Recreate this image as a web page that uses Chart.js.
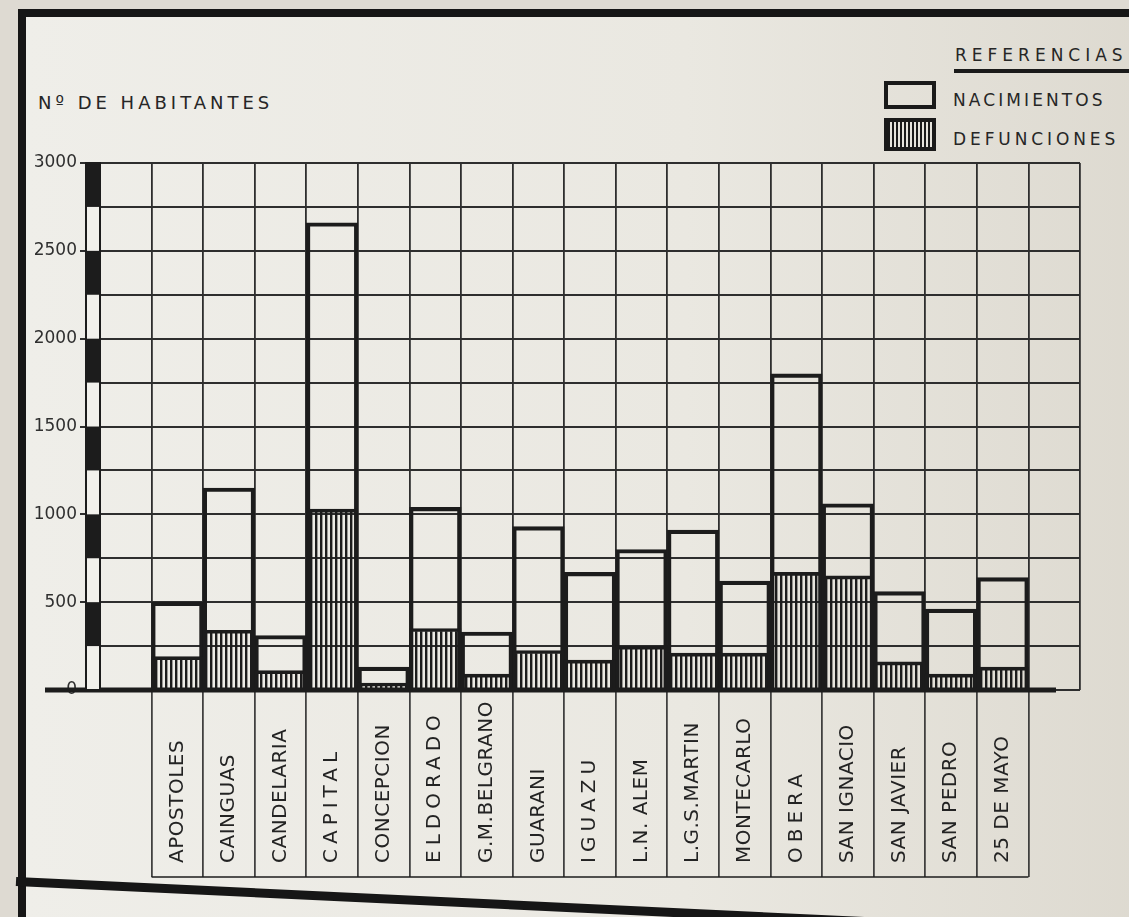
<!DOCTYPE html>
<html>
<head>
<meta charset="utf-8">
<script src="https://cdn.jsdelivr.net/npm/chart.js@4.4.1/dist/chart.umd.min.js"></script>
<style>
html, body { margin: 0; padding: 0; }
body {
    width: 1129px; height: 917px; position: relative; overflow: hidden;
    background: #dedad2;
    font-family: "DejaVu Sans", sans-serif; color: #262626;
}
#page {
    position: absolute; left: 18px; top: 9px; width: 1200px; height: 1000px;
    border-top: 8px solid #161616; border-left: 8px solid #161616;
    background: linear-gradient(90deg, #efeee9 0%, #eae8e1 55%, #dbd7cd 100%);
}
#bottomEdge {
    position: absolute; left: 16px; top: 877px; width: 1200px; height: 9px;
    background: #161616; transform-origin: 0 50%; transform: rotate(2.7deg);
}
#plot { position: absolute; left: 0; top: 0; }
.txt { position: absolute; font-size: 17px; white-space: nowrap; line-height: 20px; }
.box { position: absolute; box-sizing: border-box; border: 4px solid #1a1a1a; }
</style>
</head>
<body>
<div id="page"></div>
<div id="bottomEdge"></div>

<div class="txt" style="left:38px; top:93px; font-size:18px; letter-spacing:4px;">Nº DE HABITANTES</div>

<div class="txt" style="left:955px; top:45px; letter-spacing:5px;">REFERENCIAS</div>
<div style="position:absolute; left:954px; top:69px; width:175px; height:4px; background:#1a1a1a;"></div>
<div class="box" style="left:884px; top:81px; width:52px; height:28px;"></div>
<div class="txt" style="left:953px; top:90px; letter-spacing:3.1px;">NACIMIENTOS</div>
<div class="box" style="left:884px; top:118px; width:52px; height:33px;
     background: repeating-linear-gradient(90deg, #1a1a1a 0 2px, #e6e4dd 2px 4px);"></div>
<div class="txt" style="left:953px; top:129px; letter-spacing:3.9px;">DEFUNCIONES</div>

<canvas id="plot" width="1129" height="917"></canvas>

<script>
// Datos (departamentos de Misiones)
const departamentos = ['APOSTOLES', 'CAINGUAS', 'CANDELARIA', 'CAPITAL', 'CONCEPCION', 'ELDORADO',
    'G.M.BELGRANO', 'GUARANI', 'IGUAZU', 'L.N. ALEM', 'L.G.S.MARTIN', 'MONTECARLO', 'OBERA',
    'SAN IGNACIO', 'SAN JAVIER', 'SAN PEDRO', '25 DE MAYO'];
const nacimientos = [500, 1150, 310, 2660, 130, 1040, 330, 930, 670, 800, 910, 620, 1800, 1060, 560, 460, 640];
const defunciones = [190, 340, 110, 1030, 40, 350, 90, 225, 170, 250, 210, 210, 670, 650, 160, 90, 130];
const yTicks = [0, 500, 1000, 1500, 2000, 2500, 3000];

// names written with wide letter spacing on the original
const spaced = ['CAPITAL', 'ELDORADO', 'IGUAZU', 'OBERA'];

// one blank column before and after the departments
const labels = [''].concat(departamentos, ['']);
const pad = arr => [null].concat(arr, [null]);

const INK = '#1c1c1c';
const GRID = '#2e2e2e';
const AXIS_BOTTOM = 877;

const ctx = document.getElementById('plot').getContext('2d');

// vertical hatching for defunciones
function hatch() {
    const c = document.createElement('canvas');
    c.width = 5; c.height = 10;
    const g = c.getContext('2d');
    g.fillStyle = INK;
    g.fillRect(0, 0, 2.4, 10);
    return ctx.createPattern(c, 'repeat');
}

const decorations = {
    id: 'decorations',
    afterDatasetsDraw(chart) {
        const {ctx, chartArea, scales: {x, y}} = chart;
        const y0 = y.getPixelForValue(0);
        ctx.save();

        // thick base line
        ctx.strokeStyle = INK;
        ctx.lineWidth = 5;
        ctx.beginPath();
        ctx.moveTo(45, y0);
        ctx.lineTo(chartArea.right - 24, y0);
        ctx.stroke();

        // black / white scale bar beside the axis
        const bx = chartArea.left - 14;
        for (let v = 0; v < 3000; v += 250) {
            const top = y.getPixelForValue(v + 250), bot = y.getPixelForValue(v);
            ctx.fillStyle = (v / 250) % 2 === 1 ? INK : '#f2f1ec';
            ctx.fillRect(bx, top, 14, bot - top);
        }
        ctx.lineWidth = 2;
        ctx.strokeRect(bx, chartArea.top, 14, y0 - chartArea.top);

        // bottom edge of the label boxes
        const half = (x.getPixelForValue(2) - x.getPixelForValue(1)) / 2;
        const xa = x.getPixelForValue(1) - half;
        const xb = x.getPixelForValue(departamentos.length) + half;
        ctx.lineWidth = 1.6;
        ctx.beginPath();
        ctx.moveTo(xa, AXIS_BOTTOM);
        ctx.lineTo(xb, AXIS_BOTTOM);
        ctx.stroke();

        // department names, read from bottom to top
        ctx.fillStyle = '#232323';
        ctx.font = '20px "DejaVu Sans"';
        ctx.textAlign = 'left';
        ctx.textBaseline = 'middle';
        departamentos.forEach((name, i) => {
            ctx.save();
            ctx.letterSpacing = spaced.includes(name) ? '5px' : '0.5px';
            ctx.translate(x.getPixelForValue(i + 1), AXIS_BOTTOM - 14);
            ctx.rotate(-Math.PI / 2);
            ctx.fillText(name, 0, 0);
            ctx.restore();
        });
        ctx.restore();
    }
};

new Chart(ctx, {
    type: 'bar',
    data: {
        labels: labels,
        datasets: [
            {
                label: 'NACIMIENTOS',
                data: pad(nacimientos),
                backgroundColor: 'rgba(0,0,0,0)',
                borderColor: INK,
                borderWidth: 3.5,
                grouped: false,
                order: 1,
            },
            {
                label: 'DEFUNCIONES',
                data: pad(defunciones),
                backgroundColor: hatch(),
                borderColor: INK,
                borderWidth: 3,
                grouped: false,
                order: 0,
            }
        ]
    },
    options: {
        responsive: false,
        animation: false,
        barPercentage: 1,
        categoryPercentage: 1,
        layout: {padding: {left: 30, right: 49, top: 163, bottom: 917 - AXIS_BOTTOM}},
        scales: {
            x: {
                afterFit: s => { s.height = AXIS_BOTTOM - 690; },
                ticks: {display: false},
                border: {display: false},
                grid: {
                    offset: true,
                    color: GRID,
                    lineWidth: 1.8,
                    tickLength: AXIS_BOTTOM - 690,
                    tickWidth: 1.6,
                    tickColor: c => (c.index === undefined || c.index === 0) ? 'rgba(0,0,0,0)' : GRID,
                }
            },
            y: {
                min: 0,
                max: 3000,
                afterFit: s => { s.width = 70; },
                border: {display: true, color: GRID, width: 2},
                ticks: {
                    stepSize: 250,
                    padding: 3,
                    color: '#2f2f2f',
                    font: {family: 'DejaVu Sans', size: 17},
                    callback: v => yTicks.includes(v) ? String(v) : '',
                },
                grid: {
                    color: GRID,
                    lineWidth: 2,
                    tickLength: 20,
                    tickColor: c => yTicks.includes(c.tick.value) ? GRID : 'rgba(0,0,0,0)',
                }
            }
        },
        plugins: {
            legend: {display: false},
            tooltip: {enabled: false}
        }
    },
    plugins: [decorations]
});
</script>
</body>
</html>
